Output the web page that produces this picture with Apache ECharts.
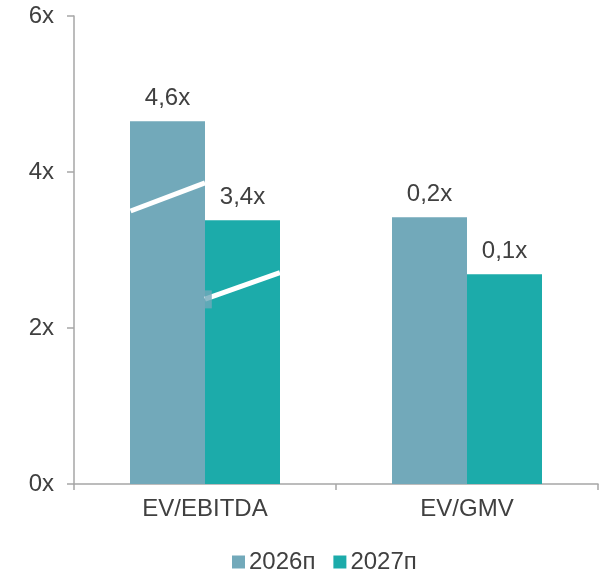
<!DOCTYPE html>
<html>
<head>
<meta charset="utf-8">
<script src="https://cdn.jsdelivr.net/npm/echarts@6/dist/echarts.min.js"></script>
<style>
html,body{margin:0;padding:0;background:#fff;}
#chart{width:605px;height:570px;}
</style>
</head>
<body>
<div id="chart"></div>
<script>
const categories = ['EV/EBITDA', 'EV/GMV'];
const seriesNames = ['2026п', '2027п'];
const values2026 = [4.65, 3.42];
const values2027 = [3.38, 2.69];
const labels2026 = ['4,6x', '0,2x'];
const labels2027 = ['3,4x', '0,1x'];
const yTicks = [0, 2, 4, 6];
// break marks, in (category-width units, axis value)
const breakMark1 = [[0.216, 3.50], [0.50, 3.86]];
const breakMark2 = [[0.50, 2.37], [0.786, 2.71]];
const breakPatch = [[0.5126, 2.367]];

const col2026 = '#72a9ba';
const col2027 = '#1cabaa';
const textCol = '#404040';
const axisCol = '#a6a6a6';
const font = 'Liberation Sans, Arial, sans-serif';
const fs = 24;

const chart = echarts.init(document.getElementById('chart'));
chart.setOption({
  animation: false,
  backgroundColor: '#fff',
  textStyle: { fontFamily: font },
  grid: { left: 74, right: 7, top: 16, bottom: 86, containLabel: false },
  legend: {
    data: seriesNames,
    left: 227, top: 545,
    itemWidth: 13, itemHeight: 13, itemGap: 18,
    icon: 'rect',
    textStyle: { fontSize: fs, color: textCol, fontFamily: font, padding: [0, 0, 0, -1] }
  },
  xAxis: [{
    type: 'category',
    data: categories,
    axisLine: { lineStyle: { color: axisCol, width: 1.5 } },
    axisTick: { show: true, length: 6, lineStyle: { color: axisCol, width: 1.5 } },
    axisLabel: { fontSize: fs, color: textCol, margin: 13, fontFamily: font },
    splitLine: { show: false }
  }, {
    type: 'value', min: 0, max: 2, show: false
  }],
  yAxis: {
    type: 'value', min: yTicks[0], max: yTicks[yTicks.length - 1], interval: yTicks[1] - yTicks[0],
    axisLine: { show: true, lineStyle: { color: axisCol, width: 1.5 } },
    axisTick: { show: true, length: 7, lineStyle: { color: axisCol, width: 1.5 } },
    axisLabel: { fontSize: fs, color: textCol, margin: 20, fontFamily: font, formatter: '{value}x' },
    splitLine: { show: false }
  },
  series: [{
    name: seriesNames[0], type: 'bar', barWidth: 75, barGap: '0%',
    itemStyle: { color: col2026 },
    data: values2026,
    label: { show: true, position: 'top', distance: 11, fontSize: fs, color: textCol, fontFamily: font,
      formatter: p => labels2026[p.dataIndex] }
  }, {
    name: seriesNames[1], type: 'bar', barWidth: 75, barGap: '0%',
    itemStyle: { color: col2027 },
    data: values2027,
    label: { show: true, position: 'top', distance: 11, fontSize: fs, color: textCol, fontFamily: font,
      formatter: p => labels2027[p.dataIndex] }
  }, {
    type: 'line', xAxisIndex: 1, data: breakMark1, symbol: 'none', silent: true, z: 5,
    lineStyle: { color: '#ffffff', width: 5 }
  }, {
    type: 'line', xAxisIndex: 1, data: breakMark2, symbol: 'none', silent: true, z: 5,
    lineStyle: { color: '#ffffff', width: 5 }
  }, {
    type: 'scatter', xAxisIndex: 1, data: breakPatch, symbol: 'rect', symbolSize: [7, 18], silent: true, z: 6,
    itemStyle: { color: col2026 }
  }]
});
</script>
</body>
</html>
